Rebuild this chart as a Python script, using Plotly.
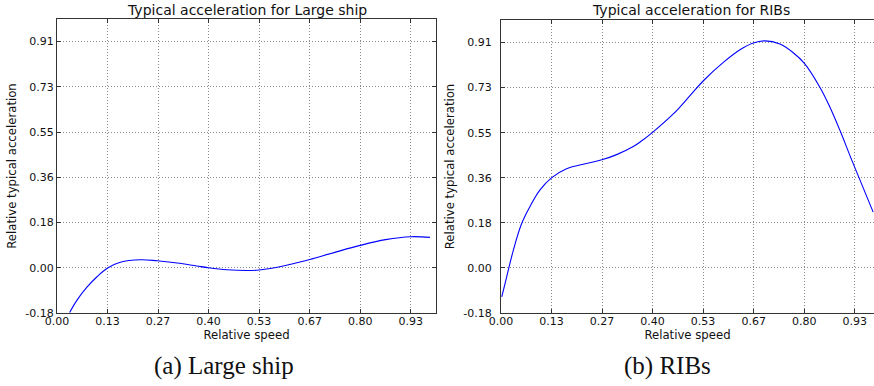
import plotly.graph_objects as go

# ---- data ----
ship_speed = [0.0334, 0.0528, 0.079, 0.1055, 0.1346, 0.167, 0.22, 0.264, 0.317, 0.369, 0.40, 0.449, 0.50,
              0.533, 0.567, 0.60, 0.633, 0.667, 0.733, 0.80, 0.867, 0.933, 0.984]
ship_accel = [-0.18, -0.130, -0.078, -0.036, 0.0, 0.022, 0.032, 0.028, 0.019, 0.007, 0.0, -0.008, -0.011,
              -0.009, -0.002, 0.008, 0.020, 0.033, 0.062, 0.090, 0.113, 0.125, 0.122]

rib_speed = [0.002, 0.015, 0.0325, 0.0545, 0.0765, 0.103, 0.134, 0.173, 0.217, 0.266, 0.305, 0.349, 0.367, 0.40,
             0.4546, 0.4987, 0.534, 0.5866, 0.6306, 0.6657, 0.6966, 0.736, 0.771, 0.80, 0.8417, 0.868,
             0.8945, 0.921, 0.947, 0.982]
rib_accel = [-0.117, -0.036, 0.071, 0.179, 0.248, 0.315, 0.364, 0.400, 0.418, 0.436, 0.457, 0.490, 0.508, 0.547,
             0.621, 0.695, 0.755, 0.829, 0.880, 0.907, 0.916, 0.903, 0.868, 0.826, 0.728, 0.648,
             0.554, 0.452, 0.355, 0.225]

x_tickvals = [0.0, 0.1333, 0.2667, 0.4, 0.5333, 0.6667, 0.8, 0.9333]
x_ticktext = ["0.00", "0.13", "0.27", "0.40", "0.53", "0.67", "0.80", "0.93"]
y_tickvals = [-0.1818, 0.0, 0.1818, 0.3636, 0.5455, 0.7273, 0.9091]
y_ticktext = ["-0.18", "0.00", "0.18", "0.36", "0.55", "0.73", "0.91"]

titles = ["Typical acceleration for Large ship", "Typical acceleration for RIBs"]
captions = ["(a) Large ship", "(b) RIBs"]
x_label = "Relative speed"
y_label = "Relative typical acceleration"

W, H = 874, 386
FONT = "DejaVu Sans"

fig = go.Figure()
fig.add_trace(go.Scatter(x=ship_speed, y=ship_accel, mode="lines",
                         line=dict(color="#0000ff", width=1.1, shape="spline", smoothing=1.1),
                         xaxis="x", yaxis="y", showlegend=False))
fig.add_trace(go.Scatter(x=rib_speed, y=rib_accel, mode="lines",
                         line=dict(color="#0000ff", width=1.1, shape="spline", smoothing=1.1),
                         xaxis="x2", yaxis="y2", showlegend=False))


def px_x(p):
    return p / W


def px_y(p):
    return (H - p) / H


GRID = dict(showgrid=True, gridcolor="#8a8a8a", griddash="1px,2px", gridwidth=1)
common_x = dict(tickmode="array", tickvals=x_tickvals, ticktext=x_ticktext, **GRID,
                showline=True, linecolor="#333333", linewidth=1.2,
                ticks="inside", ticklen=4, tickcolor="#333333",
                tickfont=dict(family=FONT, size=11, color="#111"),
                zeroline=False, fixedrange=True, automargin=False)
common_y = dict(tickmode="array", tickvals=y_tickvals, ticktext=y_ticktext,
                range=[-0.1818, 1.0], **GRID,
                showline=True, linecolor="#333333", linewidth=1.2,
                ticks="inside", ticklen=4, tickcolor="#333333",
                tickfont=dict(family=FONT, size=11, color="#111"),
                zeroline=False, fixedrange=True, automargin=False)

lab_font = dict(family=FONT, size=11.7, color="#111")

fig.update_layout(
    width=W, height=H,
    margin=dict(l=0, r=0, t=0, b=0),
    paper_bgcolor="white", plot_bgcolor="white",
    font=dict(family=FONT, size=11, color="#111"),
    xaxis=dict(common_x, domain=[px_x(57), px_x(436)], range=[0, 1.0], mirror="ticks",
               anchor="y", title=dict(text=x_label, font=lab_font, standoff=0), ticklabelstandoff=-2),
    yaxis=dict(common_y, domain=[px_y(313), px_y(19)], mirror="ticks", anchor="x",
               title=dict(text=y_label, font=lab_font, standoff=6), ticklabelstandoff=0),
    xaxis2=dict(common_x, domain=[px_x(501), 1.0], range=[0, (874 - 501) / 379], mirror="ticks",
                anchor="y2", title=dict(text=x_label, font=lab_font, standoff=0), ticklabelstandoff=-2),
    yaxis2=dict(common_y, domain=[px_y(313), px_y(20)], mirror=False, anchor="x2",
                title=dict(text=y_label, font=lab_font, standoff=6), ticklabelstandoff=6),
    annotations=[
        dict(text=titles[0], x=px_x(246.5), y=px_y(10), xref="paper", yref="paper", showarrow=False,
             xanchor="center", yanchor="middle", font=dict(family=FONT, size=14, color="#111")),
        dict(text=titles[1], x=px_x(690.5), y=px_y(10), xref="paper", yref="paper", showarrow=False,
             xanchor="center", yanchor="middle", font=dict(family=FONT, size=14, color="#111")),
        dict(text=captions[0], x=px_x(223.7), y=px_y(366), xref="paper", yref="paper", showarrow=False,
             xanchor="center", yanchor="middle", font=dict(family="Liberation Serif", size=25, color="#111")),
        dict(text=captions[1], x=px_x(667.5), y=px_y(366), xref="paper", yref="paper", showarrow=False,
             xanchor="center", yanchor="middle", font=dict(family="Liberation Serif", size=25, color="#111")),
    ],
)

fig.write_html("out.html", config={"displayModeBar": False},
               post_script="document.body.style.margin='0';")
